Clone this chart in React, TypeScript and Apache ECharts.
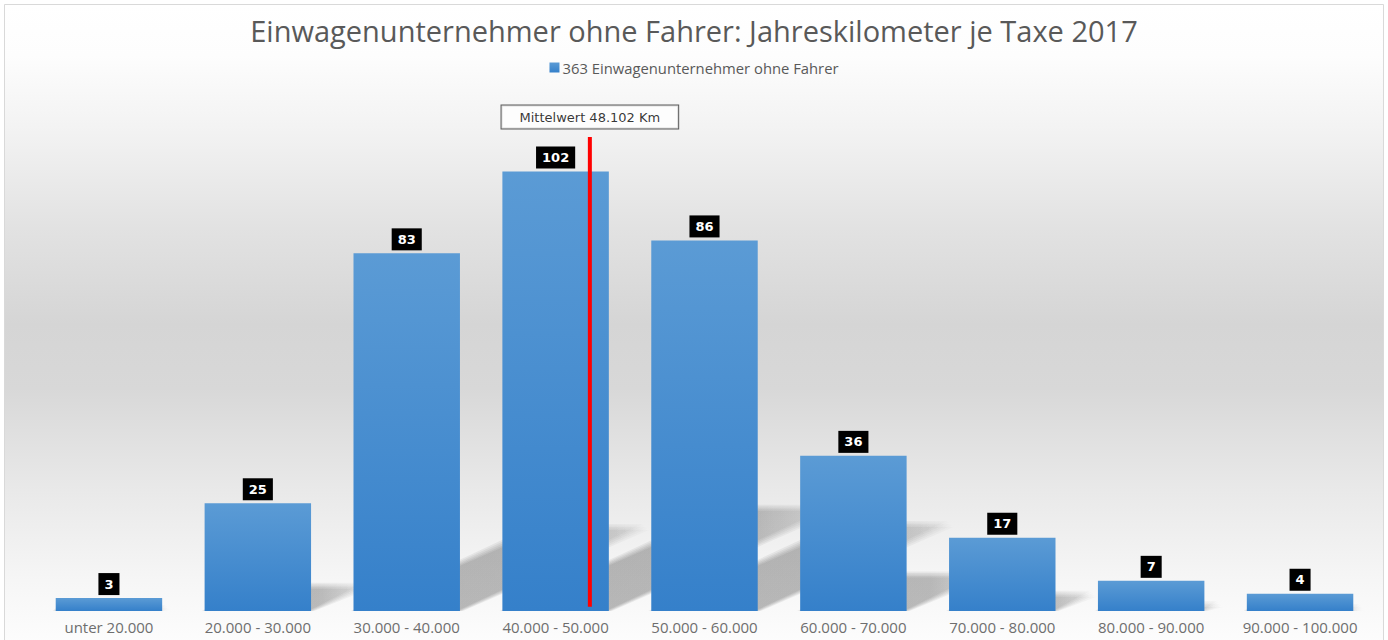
import React, { useEffect, useRef } from "react";
import * as echarts from "echarts";

const titleText = "Einwagenunternehmer ohne Fahrer: Jahreskilometer je Taxe 2017";
const seriesName = "363 Einwagenunternehmer ohne Fahrer";
const categories = [
  "unter 20.000",
  "20.000 - 30.000",
  "30.000 - 40.000",
  "40.000 - 50.000",
  "50.000 - 60.000",
  "60.000 - 70.000",
  "70.000 - 80.000",
  "80.000 - 90.000",
  "90.000 - 100.000",
];
const counts = [3, 25, 83, 102, 86, 36, 17, 7, 4];
const meanLabel = "Mittelwert 48.102 Km";
// position of the mean marker on the category scale (0 = left edge of first category)
const meanLinePosition = 3.73;
const meanLineRange = [1, 110];
const yMax = 110;

export default function App() {
  const ref = useRef<HTMLDivElement>(null);

  useEffect(() => {
    if (!ref.current) return;
    const chart = echarts.init(ref.current, null, { renderer: "svg", width: 1388, height: 640 });
    const barColor = new echarts.graphic.LinearGradient(0, 0, 0, 1, [
      { offset: 0, color: "#5b9bd5" },
      { offset: 1, color: "#3580ca" },
    ]);
    const bgColor = new echarts.graphic.LinearGradient(0, 0, 0, 1, [
      { offset: 0, color: "#ffffff" },
      { offset: 0.08, color: "#fdfdfd" },
      { offset: 0.2, color: "#f2f2f2" },
      { offset: 0.35, color: "#e2e2e2" },
      { offset: 0.5, color: "#d5d5d5" },
      { offset: 0.6, color: "#d8d8d8" },
      { offset: 0.75, color: "#e8e8e8" },
      { offset: 0.9, color: "#f6f6f6" },
      { offset: 1, color: "#fdfdfd" },
    ]);
    const barWidthRatio = 0.715;
    const blurOffsets = [-3, -1.5, 0, 1.5, 3];

    const option: any = {
      animation: false,
      graphic: [
        {
          type: "rect",
          z: -10,
          silent: true,
          shape: { x: 4.5, y: 4.5, width: 1379, height: 640 },
          style: { fill: bgColor, stroke: "#d9d9d9", lineWidth: 1 },
        },
      ],
      title: {
        text: titleText,
        left: "center",
        top: 11,
        textStyle: {
          fontFamily: "Open Sans",
          fontSize: 29,
          fontWeight: "normal",
          color: "#595959",
        },
      },
      legend: {
        top: 55,
        left: "center",
        itemWidth: 10,
        itemHeight: 10,
        itemGap: 10,
        icon: "rect",
        data: [seriesName],
        textStyle: {
          fontFamily: "Open Sans",
          fontSize: 14.8,
          color: "#595959",
          padding: [0, 0, 0, -2],
        },
      },
      grid: { left: 34.5, right: 13.5, top: 137, bottom: 29, containLabel: false },
      xAxis: [
        {
          type: "category",
          data: categories,
          axisLine: { show: false },
          axisTick: { show: false },
          axisLabel: {
            margin: 8,
            interval: 0,
            fontFamily: "Open Sans",
            fontSize: 15,
            color: "#6e6e6e",
          },
        },
        { type: "value", min: 0, max: categories.length, show: false },
      ],
      yAxis: { type: "value", min: 0, max: yMax, show: false, splitLine: { show: false } },
      series: [
        {
          type: "custom",
          name: "shadow",
          z: 1,
          silent: true,
          xAxisIndex: 0,
          data: counts.map((v, i) => [i, v]),
          encode: { x: 0, y: 1 },
          renderItem: (params: any, api: any) => {
            const i = api.value(0);
            const v = api.value(1);
            const base = api.coord([i, 0]);
            const top = api.coord([i, v]);
            const bw = api.size([1, 0])[0] * barWidthRatio;
            const H = base[1] - top[1];
            const xL = base[0] - bw / 2;
            const xR = base[0] + bw / 2;
            const k = 0.52;
            const s = 0.235;
            const fill = new echarts.graphic.LinearGradient(0, 0, 1, 0, [
              { offset: 0, color: "rgba(0,0,0,0.062)" },
              { offset: 0.7, color: "rgba(0,0,0,0.058)" },
              { offset: 0.9, color: "rgba(0,0,0,0.035)" },
              { offset: 1, color: "rgba(0,0,0,0.015)" },
            ]);
            return {
              type: "group",
              children: blurOffsets.map((d) => ({
                type: "polygon",
                shape: {
                  points: [
                    [xL + d, base[1]],
                    [xR + d, base[1]],
                    [xR + k * H + d, base[1] - s * H + d],
                    [xL + k * H + d, base[1] - s * H + d],
                  ],
                },
                style: { fill },
              })),
            };
          },
        },
        {
          type: "bar",
          name: seriesName,
          z: 2,
          data: counts,
          barWidth: (barWidthRatio * 100).toFixed(1) + "%",
          itemStyle: { color: barColor },
          label: {
            show: true,
            position: "top",
            distance: 3,
            backgroundColor: "#000000",
            color: "#ffffff",
            fontFamily: "DejaVu Sans",
            fontWeight: "bold",
            fontSize: 13,
            lineHeight: 14,
            padding: [4, 6],
          },
        },
        {
          type: "line",
          name: "mean",
          z: 3,
          xAxisIndex: 1,
          yAxisIndex: 0,
          symbol: "none",
          silent: true,
          data: meanLineRange.map((y) => [meanLinePosition, y]),
          lineStyle: { color: "#ff0000", width: 4 },
        },
        {
          type: "scatter",
          name: "meanLabel",
          z: 4,
          xAxisIndex: 1,
          yAxisIndex: 0,
          silent: true,
          symbolSize: 1,
          itemStyle: { color: "rgba(0,0,0,0)" },
          data: [[meanLinePosition, meanLineRange[1]]],
          label: {
            show: true,
            position: "top",
            distance: 8,
            formatter: meanLabel,
            fontFamily: "DejaVu Sans",
            fontSize: 13,
            lineHeight: 15,
            color: "#000000",
            backgroundColor: "#ffffff",
            borderColor: "#333333",
            borderWidth: 1,
            padding: [4, 18],
          },
        },
      ],
    };
    chart.setOption(option);
    return () => chart.dispose();
  }, []);

  return (
    <div
      ref={ref}
      style={{ position: "absolute", left: 0, top: 0, width: 1388, height: 640 }}
    />
  );
}
